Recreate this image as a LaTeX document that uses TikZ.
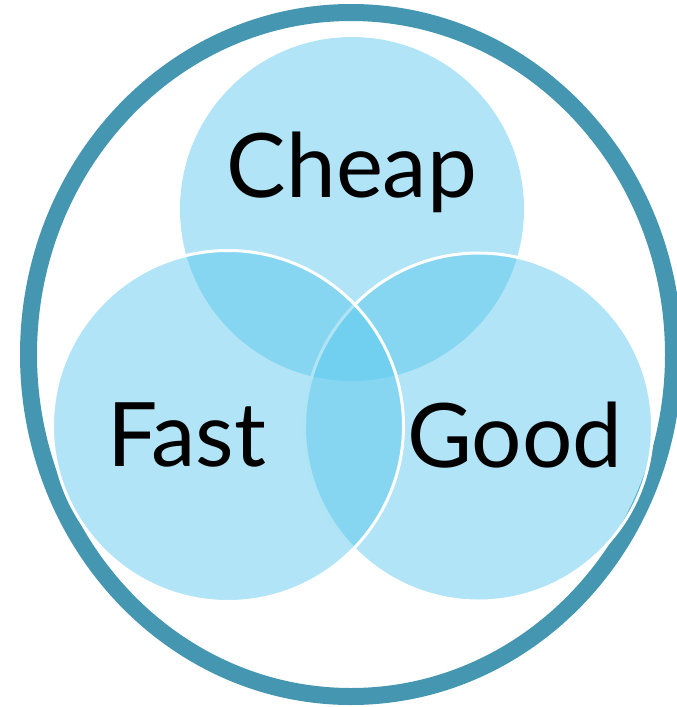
\documentclass[tikz,border=0pt]{standalone}
\usepackage{fontspec}
\setmainfont{Lato}
\definecolor{ringblue}{RGB}{69,150,177}
\definecolor{vennblue}{RGB}{90,199,236}
\tikzset{
  venn/.style={fill=vennblue, fill opacity=0.48},
  vennline/.style={venn, draw=white, line width=3pt},
  lbl/.style={anchor=base, font=\fontsize{89}{100}\selectfont, text=black, inner sep=0pt}
}
\begin{document}
\begin{tikzpicture}[x=1pt,y=-1pt]
\useasboundingbox (0,0) rectangle (677,707);
\draw[ringblue, line width=17pt] (351,354.5) ellipse [x radius=322.5, y radius=342];
\fill[venn] (352,209) circle [radius=172];
\draw[vennline] (478.5,427) circle [radius=174];
\draw[vennline] (228,426) circle [radius=175.5];
\node[lbl] (cheap) at (352,197) {Cheap};
\node[lbl] (fast) at (187,466) {Fast};
\node[lbl] (good) at (515,467) {Good};
\end{tikzpicture}
\end{document}
